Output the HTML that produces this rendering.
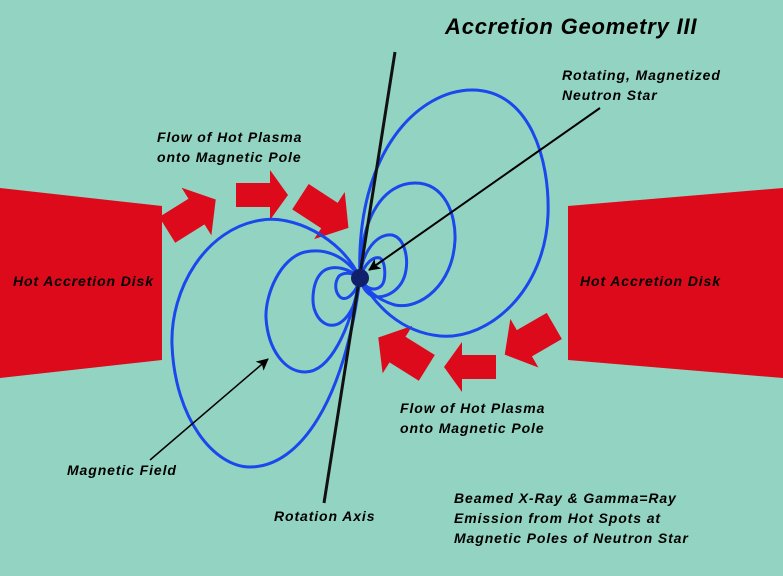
<!DOCTYPE html>
<html><head><meta charset="utf-8"><style>
html,body{margin:0;padding:0;background:#93d3c1}
svg{display:block}
text{font-family:"Liberation Sans",sans-serif;font-style:italic;font-weight:bold;font-size:14px;fill:#000;letter-spacing:0.9px}
</style></head><body>
<svg width="783" height="576" viewBox="0 0 783 576" xmlns="http://www.w3.org/2000/svg">
<rect width="783" height="576" fill="#93d3c1"/>
<defs>
<polygon id="ar" points="-26,-12 8,-12 8,-25 26,0 8,25 8,12 -26,12" fill="#dc0a1a"/>
<polygon id="ar2" points="-26,-14 6,-14 6,-26 27,0 6,26 6,14 -26,14" fill="#dc0a1a"/>
<marker id="ah" markerWidth="12" markerHeight="12" refX="11" refY="6" orient="auto" markerUnits="userSpaceOnUse"><polygon points="0,0 12,6 0,12 3,6" fill="#000"/></marker>
</defs>
<polygon points="0,188 162,206 162,360 0,378" fill="#dc0a1a"/>
<polygon points="568,206 783,188 783,378 568,360" fill="#dc0a1a"/>
<use href="#ar2" transform="translate(191,215) rotate(-32) scale(1.08)"/>
<use href="#ar" transform="translate(262,195)"/>
<use href="#ar2" transform="translate(324,212) rotate(33) scale(1.08)"/>
<use href="#ar2" transform="translate(403,353) rotate(212) scale(1.08)"/>
<use href="#ar" transform="translate(470,367) rotate(180)"/>
<use href="#ar2" transform="translate(530,340) rotate(150) scale(1.08)"/>
<g fill="none" stroke="#1a48ec" stroke-width="3">
<path d="M360,278 C355,150 420,90 472,90 C530,90 550,160 548,215 C545,290 490,340 440,336 C400,332 375,305 360,278"/>
<path d="M360,278 C360,215 385,183 415,183 C445,183 456,215 455,240 C453,285 420,310 395,305 C378,300 366,290 360,278"/>
<path d="M360,278 C362,250 378,233 392,235 C405,238 408,258 406,270 C403,290 385,300 372,296 C365,292 362,286 360,278"/>
<path d="M360,278 C365,262 374,256 380,258 C386,262 386,280 382,285 C376,292 366,290 360,278"/>
<path d="M360,278 C340,235 290,215 262,220 C205,228 170,290 172,345 C175,420 215,467 250,467 C300,467 345,400 360,278"/>
<path d="M360,278 C345,255 325,248 305,252 C280,258 265,295 266,318 C268,350 285,372 305,372 C330,372 350,330 360,278"/>
<path d="M360,278 C348,268 335,265 325,270 C312,278 312,300 314,308 C318,322 328,328 338,324 C350,318 358,300 360,278"/>
<path d="M360,278 C352,272 344,272 339,276 C334,283 335,292 340,297 C346,302 356,294 360,278"/>
</g>
<line x1="395" y1="52" x2="324" y2="503" stroke="#111" stroke-width="3"/>
<circle cx="360" cy="278" r="9" fill="#10206a"/>
<line x1="600" y1="108" x2="369" y2="270" stroke="#000" stroke-width="2" marker-end="url(#ah)"/>
<line x1="150" y1="460" x2="268" y2="359" stroke="#000" stroke-width="1.5" marker-end="url(#ah)"/>
<text x="445" y="34" style="font-size:22px;letter-spacing:0.8px">Accretion Geometry III</text>
<text x="562" y="80">Rotating, Magnetized</text>
<text x="562" y="100">Neutron Star</text>
<text x="157" y="142">Flow of Hot Plasma</text>
<text x="157" y="162">onto Magnetic Pole</text>
<text x="13" y="286">Hot Accretion Disk</text>
<text x="580" y="286">Hot Accretion Disk</text>
<text x="400" y="413">Flow of Hot Plasma</text>
<text x="400" y="433">onto Magnetic Pole</text>
<text x="67" y="475">Magnetic Field</text>
<text x="274" y="521">Rotation Axis</text>
<text x="454" y="503">Beamed X-Ray &amp; Gamma=Ray</text>
<text x="454" y="523">Emission from Hot Spots at</text>
<text x="454" y="543">Magnetic Poles of Neutron Star</text>
</svg>
</body></html>
